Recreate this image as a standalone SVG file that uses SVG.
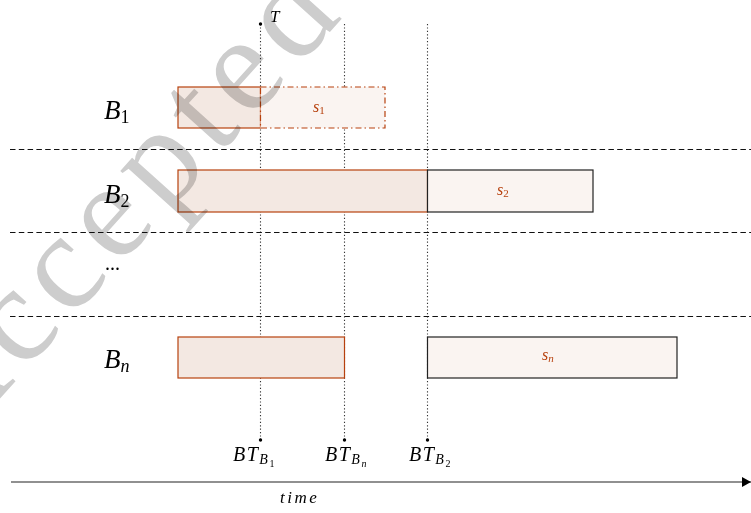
<svg xmlns="http://www.w3.org/2000/svg" width="751" height="513" viewBox="0 0 751 513">
<style>
.m{font-family:"Liberation Serif","DejaVu Serif",serif;font-style:italic;fill:#000}
.r{font-style:normal}
.br{fill:#b7410e}
.done{fill:#f3e8e2;stroke:#b7410e;stroke-width:1.2}
.todo{fill:#faf4f1;stroke:#222;stroke-width:1.2}
.todod{fill:#faf4f1;stroke:#b7410e;stroke-width:1.2;stroke-dasharray:6 3 1.5 3}
.dot{stroke:#333;stroke-width:1.1;stroke-dasharray:1.2 2.2;fill:none}
.dash{stroke:#111;stroke-width:1;stroke-dasharray:5.5 3.3;fill:none}
.bt{font-size:20px;letter-spacing:1.5px}
</style>
<defs>
<marker id="arr" viewBox="0 0 10 10" refX="10" refY="5" markerWidth="9" markerHeight="10" markerUnits="userSpaceOnUse" orient="auto" preserveAspectRatio="none">
<path d="M0,0 L10,5 L0,10 z" fill="#000"/>
</marker>
</defs>
<rect width="751" height="513" fill="#fff"/>
<g id="connectors">
<line class="dot" x1="260.5" y1="24" x2="260.5" y2="440"/>
<line class="dot" x1="344.5" y1="24" x2="344.5" y2="440"/>
<line class="dot" x1="427.5" y1="24" x2="427.5" y2="440"/>
<line class="dash" x1="10" y1="149.5" x2="751" y2="149.5"/>
<line class="dash" x1="10" y1="232.5" x2="751" y2="232.5"/>
<line class="dash" x1="10" y1="316.5" x2="751" y2="316.5"/>
<line x1="11" y1="482" x2="751" y2="482" stroke="#222" stroke-width="1.2" marker-end="url(#arr)"/>
<circle cx="260.5" cy="24" r="1.7" fill="#000"/>
<circle cx="260.5" cy="440" r="1.7" fill="#000"/>
<circle cx="344.5" cy="440" r="1.7" fill="#000"/>
<circle cx="427.5" cy="440" r="1.7" fill="#000"/>
</g>
<g id="row1">
<rect class="done" x="178" y="87" width="82.5" height="41"/>
<rect class="todod" x="260.5" y="87" width="124.5" height="41"/>
<text class="m br" x="313" y="112" font-size="16">s<tspan class="r" font-size="11" dy="2">1</tspan></text>
<text class="m" x="104" y="119" font-size="27">B<tspan class="r" font-size="18" dy="4">1</tspan></text>
</g>
<g id="row2">
<rect class="done" x="178" y="170" width="249.5" height="42"/>
<rect class="todo" x="427.5" y="170" width="165.5" height="42"/>
<text class="m br" x="497" y="195" font-size="16">s<tspan class="r" font-size="11" dy="2">2</tspan></text>
<text class="m" x="104" y="203" font-size="27">B<tspan class="r" font-size="18" dy="4">2</tspan></text>
</g>
<g id="rowdots">
<text x="105" y="270" font-family="Liberation Serif,serif" font-size="20">...</text>
</g>
<g id="rown">
<rect class="done" x="178" y="337" width="166.5" height="41"/>
<rect class="todo" x="427.5" y="337" width="249.5" height="41"/>
<text class="m br" x="542" y="360" font-size="16">s<tspan font-size="11" dy="2">n</tspan></text>
<text class="m" x="104" y="368" font-size="27">B<tspan font-size="18" dy="4">n</tspan></text>
</g>
<g id="labels">
<text class="m" x="270" y="22" font-size="17">T</text>
<text class="m bt" x="233" y="461">BT<tspan font-size="14" dy="3">B</tspan><tspan class="r" font-size="10" dy="3">1</tspan></text>
<text class="m bt" x="325" y="461">BT<tspan font-size="14" dy="3">B</tspan><tspan font-size="10" dy="3">n</tspan></text>
<text class="m bt" x="409" y="461">BT<tspan font-size="14" dy="3">B</tspan><tspan class="r" font-size="10" dy="3">2</tspan></text>
<text class="m" x="280" y="503" font-size="17" letter-spacing="2.5">time</text>
</g>
<g id="watermark" style="mix-blend-mode:multiply">
<text x="-50" y="454" transform="rotate(-48 -50 454)" font-family="Liberation Serif,serif" font-size="137" letter-spacing="10" fill="#cdcdcd">Accepted</text>
</g>
</svg>
